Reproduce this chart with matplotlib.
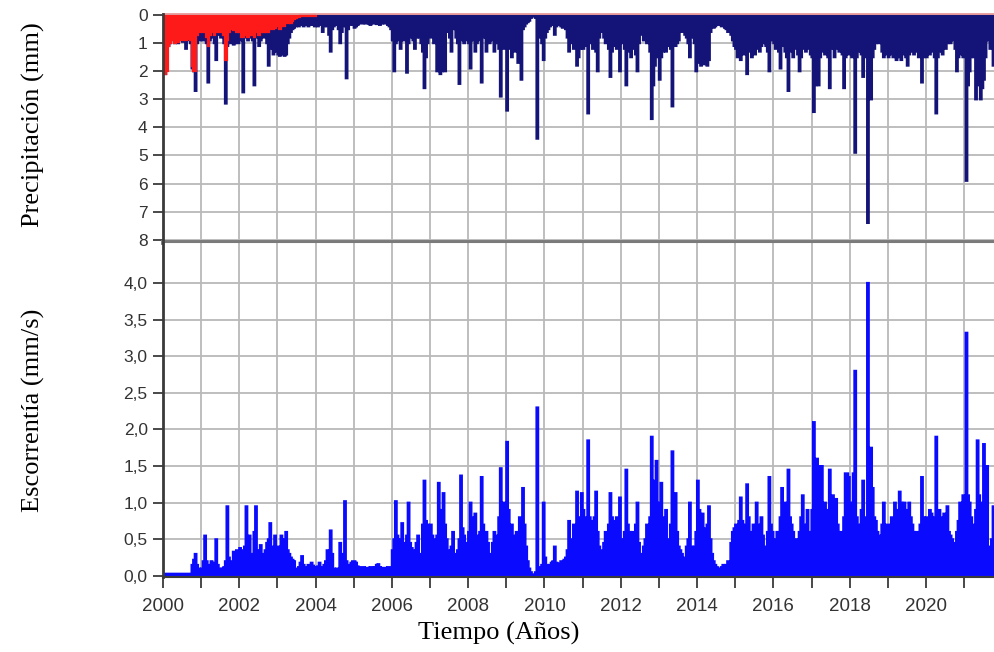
import numpy as np
import matplotlib
matplotlib.use("Agg")
import matplotlib.pyplot as plt

# Semi-monthly series (24 steps per year) starting 2000-01-01
START_YEAR = 2000
STEPS_PER_YEAR = 24

# Precipitación (mm) - main series, navy
precip = [
    # 2000
    2.0, 2.1, 1.9, 1.1, 1.0, 0.9, 0.8, 1.0, 0.9, 1.0, 0.85, 0.9,
    0.95, 0.85, 1.2, 0.8, 0.9, 1.0, 1.9, 2.0, 2.7, 1.0, 0.8, 0.9,
    # 2001
    0.8, 0.9, 0.7, 1.0, 2.4, 0.9, 0.7, 0.8, 1.0, 1.6, 0.6, 0.7,
    0.8, 0.7, 1.0, 3.15, 1.1, 0.8, 1.0, 1.0, 1.05, 1.0, 0.95, 1.0,
    # 2002
    0.9, 0.8, 2.75, 0.8, 0.7, 0.9, 0.8, 0.7, 0.9, 2.5, 0.8, 0.7,
    1.1, 0.9, 0.6, 0.8, 0.7, 1.0, 1.8, 1.2, 0.9, 1.4, 1.0, 1.3,
    # 2003
    1.4, 1.45, 1.4, 1.3, 1.45, 1.4, 1.0, 0.8, 0.6, 0.5, 0.45, 0.4,
    0.35, 0.4, 0.3, 0.35, 0.4, 0.35, 0.3, 0.4, 0.35, 0.3, 0.35, 0.4,
    # 2004
    0.35, 0.4, 0.3, 0.35, 0.6, 0.4, 0.3, 0.4, 0.7, 1.3, 0.5, 0.4,
    0.35, 0.3, 0.5, 1.0, 0.6, 0.4, 0.35, 2.25, 0.5, 0.35, 0.3, 0.35,
    # 2005
    0.45, 0.4, 0.35, 0.3, 0.3, 0.3, 0.28, 0.3, 0.25, 0.3, 0.35, 0.3,
    0.3, 0.28, 0.32, 0.3, 0.35, 0.3, 0.25, 0.3, 0.3, 0.35, 0.4, 0.5,
    # 2006
    0.9, 2.0, 1.0, 0.8, 0.9, 1.2, 0.8, 0.9, 0.7, 2.05, 1.0, 0.8,
    0.7, 0.9, 1.2, 0.8, 0.7, 0.8, 1.0, 1.3, 2.6, 1.5, 1.0, 0.8,
    # 2007
    0.8, 0.7, 1.0, 0.9, 2.0, 1.9, 2.1, 2.0, 1.8, 2.0, 0.4, 0.6,
    0.8, 1.3, 0.5, 0.4, 0.8, 1.0, 2.45, 0.9, 0.8, 1.0, 0.9, 0.8,
    # 2008
    1.0, 1.9, 0.8, 0.9, 1.3, 1.0, 0.8, 0.9, 2.4, 0.8, 0.7, 1.3,
    0.6, 1.0, 0.8, 0.9, 1.3, 0.8, 1.0, 1.2, 2.9, 1.0, 1.2, 1.0,
    # 2009
    3.4, 1.2, 1.0, 1.5, 1.1, 1.3, 1.0, 1.7, 1.2, 2.3, 0.5, 0.4,
    0.3, 0.25, 0.2, 0.1, 0.05, 0.05, 0.1, 4.4, 0.8, 0.6, 1.0, 1.6,
    # 2010
    0.8, 0.6, 0.5, 0.4, 0.35, 0.3, 0.7, 0.4, 0.35, 0.3, 0.4, 0.45,
    0.35, 0.5, 0.8, 1.3, 1.0, 0.9, 1.2, 1.0, 1.8, 1.5, 1.2, 1.0,
    # 2011
    1.2, 1.0, 1.1, 3.5, 1.0, 0.9, 1.2, 1.0, 1.3, 2.0, 0.8, 0.6,
    0.5, 0.8, 1.0, 0.7, 1.2, 2.2, 1.3, 1.1, 1.0, 1.2, 1.1, 2.0,
    # 2012
    0.8, 1.0, 1.2, 2.5, 1.3, 1.0, 1.5, 1.2, 1.0, 1.4, 2.0, 1.0,
    0.6, 0.7, 0.9, 0.8, 1.0, 0.9, 1.3, 3.7, 2.5, 1.8, 1.5, 1.4,
    # 2013
    2.3, 1.5, 1.3, 1.0, 1.3, 1.1, 0.9, 1.2, 3.25, 1.0, 1.1, 1.0,
    0.9, 0.5, 0.6, 0.5, 0.7, 0.8, 1.0, 1.5, 0.8, 0.4, 1.0, 2.0,
    # 2014
    1.7, 1.5, 1.8, 1.6, 1.75, 1.5, 1.8, 1.6, 0.6, 0.4, 0.45, 0.4,
    0.3, 0.35, 0.3, 0.4, 0.35, 0.45, 0.5, 0.6, 0.5, 0.7, 0.9, 1.1,
    # 2015
    1.2, 1.5, 1.1, 1.6, 1.3, 1.4, 1.2, 2.1, 1.0, 1.3, 1.5, 1.1,
    1.4, 1.0, 1.2, 1.3, 1.1, 1.0, 0.8, 1.1, 1.3, 2.0, 0.8, 0.9,
    # 2016
    1.0, 1.2, 0.9, 1.3, 1.9, 1.1, 1.0, 1.3, 1.5, 2.7, 1.3, 1.0,
    1.5, 1.2, 1.1, 1.4, 2.0, 1.5, 1.2, 1.0, 1.3, 1.1, 1.2, 1.4,
    # 2017
    1.5, 3.45, 2.5, 2.3, 2.5, 1.5, 1.3, 1.0, 1.4, 1.2, 1.5, 2.6,
    1.2, 1.0, 1.5, 1.2, 1.0, 1.3, 1.1, 1.4, 2.6, 1.5, 1.2, 1.4,
    # 2018
    1.3, 1.5, 1.2, 4.9, 1.5, 1.3, 1.2, 1.4, 2.2, 1.5, 1.3, 7.4,
    1.4, 3.0, 1.5, 1.2, 1.0, 0.8, 1.0, 0.9, 1.3, 1.5, 1.2, 1.4,
    # 2019
    1.5, 1.3, 1.4, 1.5, 1.2, 1.6, 1.3, 1.5, 1.6, 1.4, 1.3, 1.5,
    1.8, 1.4, 1.2, 1.3, 1.4, 1.3, 1.2, 1.5, 1.3, 2.4, 1.5, 1.4,
    # 2020
    1.5, 1.3, 1.4, 1.2, 1.3, 1.5, 3.5, 1.5, 1.3, 1.2, 1.4, 1.1,
    1.2, 1.0, 0.9, 1.0, 0.8, 0.9, 1.2, 2.0, 1.5, 1.4, 1.3, 1.5,
    # 2021 (to October)
    1.5, 5.9, 2.5, 2.0, 1.5, 1.3, 1.5, 3.0, 2.5, 1.5, 3.0, 2.6,
    2.3, 1.5, 0.8, 0.9, 1.2, 1.0, 1.8, 1.5,
]

# Precipitación - secondary component, red (2000-2003)
precip_red = [
    # 2000
    1.9, 2.1, 2.0, 1.1, 1.0, 0.9, 0.8, 1.0, 0.85, 0.95, 0.8, 0.9,
    0.9, 0.8, 0.9, 0.75, 0.85, 0.9, 1.8, 2.0, 2.0, 0.7, 0.6, 0.6,
    # 2001
    0.6, 0.6, 0.5, 0.8, 1.1, 0.7, 0.5, 0.6, 0.7, 0.6, 0.5, 0.6,
    0.5, 0.6, 0.7, 1.6, 0.9, 0.6, 0.5, 0.5, 0.55, 0.5, 0.6, 0.5,
    # 2002
    0.6, 0.8, 0.8, 0.7, 0.6, 0.8, 0.7, 0.6, 0.7, 0.8, 0.6, 0.5,
    0.7, 0.6, 0.5, 0.6, 0.5, 0.6, 0.6, 0.5, 0.4, 0.5, 0.45, 0.4,
    # 2003
    0.4, 0.5, 0.4, 0.35, 0.4, 0.3, 0.3, 0.25, 0.3, 0.2, 0.15, 0.1,
    0.08, 0.06, 0.05, 0.05, 0.05, 0.05, 0.04, 0.04, 0.04, 0.04, 0.04, 0.04,
]

# Escorrentía (mm/s)
runoff = [
    # 2000
    0.03, 0.03, 0.03, 0.03, 0.03, 0.03, 0.03, 0.03, 0.03, 0.03, 0.03, 0.03,
    0.03, 0.03, 0.03, 0.03, 0.03, 0.03, 0.15, 0.22, 0.3, 0.15, 0.1, 0.08,
    # 2001
    0.1, 0.2, 0.55, 0.2, 0.15, 0.12, 0.2, 0.15, 0.18, 0.5, 0.15, 0.1,
    0.08, 0.1, 0.12, 0.2, 0.95, 0.25, 0.15, 0.2, 0.33, 0.3, 0.35, 0.35,
    # 2002
    0.38, 0.35, 0.3, 0.4, 0.95, 0.3, 0.55, 0.3, 0.25, 0.6, 0.95, 0.35,
    0.2, 0.42, 0.3, 0.2, 0.35, 0.45, 0.5, 0.72, 0.4, 0.3, 0.55, 0.35,
    # 2003
    0.4, 0.3, 0.55, 0.45, 0.5, 0.6, 0.35, 0.3, 0.25, 0.22, 0.2, 0.1,
    0.1, 0.12, 0.18, 0.27, 0.15, 0.12, 0.1, 0.15, 0.12, 0.18, 0.14, 0.12,
    # 2004
    0.1, 0.13, 0.18, 0.1, 0.12, 0.15, 0.2, 0.35, 0.15, 0.62, 0.3, 0.1,
    0.08, 0.1, 0.08, 0.45, 0.12, 0.3, 1.02, 0.2, 0.15, 0.12, 0.18, 0.2,
    # 2005
    0.2, 0.18, 0.13, 0.12, 0.12, 0.12, 0.12, 0.11, 0.11, 0.11, 0.12, 0.12,
    0.11, 0.12, 0.15, 0.16, 0.12, 0.11, 0.11, 0.11, 0.11, 0.12, 0.12, 0.12,
    # 2006
    0.35, 0.5, 1.02, 0.55, 0.45, 0.5, 0.72, 0.45, 0.4, 0.55, 1.0, 0.45,
    0.38, 0.35, 0.3, 0.45, 0.55, 0.3, 0.25, 0.7, 1.3, 0.75, 0.7, 0.68,
    # 2007
    0.7, 0.55, 0.5, 0.35, 0.55, 1.27, 0.8, 0.9, 1.13, 0.7, 0.5, 0.35,
    0.3, 0.4, 0.6, 0.3, 0.2, 0.35, 0.5, 1.37, 0.65, 0.55, 0.4, 0.45,
    # 2008
    0.6, 1.0, 0.8, 0.6, 0.85, 0.55, 0.45, 0.6, 1.35, 0.7, 0.5, 0.6,
    0.45, 0.3, 0.25, 0.45, 0.6, 0.55, 0.5, 0.8, 1.47, 0.9, 1.0, 0.85,
    # 2009
    1.83, 0.9, 0.6, 0.7, 0.55, 0.5, 0.6, 0.45, 0.8, 0.6, 1.2, 0.7,
    0.4, 0.2, 0.1, 0.05, 0.02, 0.01, 0.05, 2.3, 0.12, 0.08, 0.15, 1.0,
    # 2010
    0.25, 0.15, 0.12, 0.15, 0.18, 0.2, 0.4, 0.18, 0.15, 0.17, 0.2, 0.2,
    0.22, 0.25, 0.35, 0.75, 0.4, 0.5, 0.7, 0.6, 1.15, 0.8, 0.6, 1.13,
    # 2011
    0.9, 0.8, 0.7, 1.85, 0.8, 0.75, 0.6, 0.8, 1.15, 0.6, 0.4, 0.35,
    0.3, 0.45, 0.6, 0.4, 0.7, 1.13, 0.8, 0.75, 0.6, 0.8, 0.7, 1.07,
    # 2012
    0.5, 0.45, 0.6, 1.45, 0.7, 0.6, 0.55, 0.6, 0.5, 0.7, 1.0, 0.45,
    0.3, 0.25, 0.4, 0.5, 0.7, 0.6, 0.8, 1.9, 1.2, 1.3, 1.57, 0.9,
    # 2013
    1.0, 1.27, 0.8, 0.6, 0.9, 0.5, 0.4, 0.7, 1.7, 0.9, 1.13, 0.6,
    0.4, 0.35, 0.3, 0.2, 0.25, 0.4, 0.5, 1.0, 0.4, 0.15, 0.4, 0.6,
    # 2014
    1.3, 0.9, 0.7, 0.85, 0.6, 0.65, 0.7, 0.95, 0.5, 0.3, 0.2, 0.15,
    0.12, 0.1, 0.1, 0.12, 0.15, 0.12, 0.15, 0.2, 0.15, 0.45, 0.6, 0.65,
    # 2015
    0.7, 0.65, 0.75, 1.07, 0.75, 0.6, 0.7, 1.25, 0.8, 0.6, 0.55, 0.7,
    0.6, 1.0, 0.7, 0.6, 0.8, 0.55, 0.4, 0.3, 0.6, 1.35, 0.7, 0.6,
    # 2016
    0.45, 0.5, 0.6, 0.55, 0.8, 1.2, 0.9, 1.0, 0.85, 1.45, 0.8, 0.7,
    0.6, 0.45, 0.5, 0.4, 0.6, 0.8, 1.1, 0.7, 0.65, 0.9, 0.6, 0.55,
    # 2017
    0.9, 2.1, 1.4, 1.6, 1.5, 1.2, 1.5, 0.9, 1.0, 0.7, 0.9, 1.45,
    1.0, 1.1, 0.95, 1.05, 0.7, 0.55, 0.6, 0.5, 0.8, 1.4, 1.4, 1.35,
    # 2018
    1.0, 0.8, 1.4, 2.8, 0.8, 0.7, 0.6, 0.9, 1.3, 0.8, 0.7, 4.0,
    0.9, 1.75, 1.2, 0.8, 0.75, 0.6, 0.55, 0.5, 0.7, 1.0, 0.6, 0.7,
    # 2019
    0.7, 0.6, 0.8, 0.75, 1.0, 0.85, 0.9, 1.15, 1.0, 0.95, 1.0, 0.85,
    0.9, 1.0, 0.8, 0.7, 0.6, 0.55, 0.6, 0.5, 0.7, 1.35, 0.8, 0.75,
    # 2020
    0.8, 0.7, 0.9, 0.85, 0.75, 0.8, 1.9, 0.7, 0.9, 0.8, 0.75, 0.85,
    0.7, 0.95, 0.6, 0.55, 0.5, 0.3, 0.45, 0.6, 0.75, 1.0, 0.8, 1.1,
    # 2021 (to October)
    1.0, 3.32, 1.1, 1.0, 0.8, 0.7, 0.6, 0.9, 1.85, 1.1, 1.0, 0.9,
    1.8, 1.45, 1.5, 0.4, 0.3, 0.5, 0.95, 0.8,
]

precip_ticks = [0, 1, 2, 3, 4, 5, 6, 7, 8]
runoff_ticks = [0.0, 0.5, 1.0, 1.5, 2.0, 2.5, 3.0, 3.5, 4.0]
year_ticks = list(range(2000, 2022))
year_labels = [str(y) if y % 2 == 0 else "" for y in year_ticks]

NAVY = "#141478"
RED = "#ff1a1a"
BLUE = "#0a0aff"
GRID = "#b9b9b9"
TICKCOL = "#333333"

edges = START_YEAR + np.arange(len(precip) + 1) / STEPS_PER_YEAR
edges_red = START_YEAR + np.arange(len(precip_red) + 1) / STEPS_PER_YEAR

fig = plt.figure(figsize=(9.95, 6.52), dpi=100)
ax_p = fig.add_axes([163 / 995, 1 - 242 / 652, 1 - 163 / 995, 228 / 652])
ax_q = fig.add_axes([163 / 995, 1 - 577 / 652, 1 - 163 / 995, 335 / 652])

XMIN, XMAX = 2000.0, 2021.81


def draw_series(ax, values, edge_pos, color, z):
    """Filled step series with an outline so narrow peaks stay visible."""
    ax.stairs(values, edge_pos, baseline=0, fill=True, color=color, lw=0, zorder=z)
    ax.stairs(values, edge_pos, baseline=0, fill=False, color=color, lw=1.6,
              zorder=z, joinstyle="miter")


# --- Precipitation panel (inverted) ---
draw_series(ax_p, precip, edges, NAVY, 2)
draw_series(ax_p, precip_red, edges_red, RED, 3)
ax_p.set_xlim(XMIN, XMAX)
ax_p.set_ylim(8.08, -0.036)
ax_p.set_yticks(precip_ticks)
ax_p.set_yticklabels([str(v) for v in precip_ticks])
ax_p.set_xticks(year_ticks)
ax_p.tick_params(axis="x", length=0, labelbottom=False)

# --- Runoff panel ---
draw_series(ax_q, runoff, edges, BLUE, 2)
ax_q.set_xlim(XMIN, XMAX)
ax_q.set_ylim(-0.014, 4.56)
ax_q.set_yticks(runoff_ticks)
ax_q.set_yticklabels([f"{v:.1f}".replace(".", ",") for v in runoff_ticks])
ax_q.set_xticks(year_ticks)
ax_q.set_xticklabels(year_labels)

for ax in (ax_p, ax_q):
    ax.set_axisbelow(True)
    ax.grid(True, color=GRID, lw=1.3)
    ax.spines["right"].set_visible(False)
    ax.spines["left"].set_color("#3a3a3a")
    ax.spines["left"].set_linewidth(2.0)
    ax.spines["left"].set_zorder(5)
    ax.tick_params(axis="y", direction="out", length=7, width=1.3,
                   color="#3a3a3a", pad=4, labelsize=12.5, labelcolor=TICKCOL)
    for lab in ax.get_yticklabels() + ax.get_xticklabels():
        lab.set_fontfamily("Liberation Sans")

ax_p.spines["top"].set_color("#e89090")
ax_p.spines["top"].set_linewidth(1.2)
ax_p.spines["bottom"].set_color("#7a7a7a")
ax_p.spines["bottom"].set_linewidth(3.5)
ax_q.spines["top"].set_color("#7a7a7a")
ax_q.spines["top"].set_linewidth(1.5)
ax_q.spines["bottom"].set_color("#3a3a3a")
ax_q.spines["bottom"].set_linewidth(1.5)
ax_q.spines["bottom"].set_zorder(5)
ax_q.tick_params(axis="x", direction="out", length=8, width=1.3,
                 color="#3a3a3a", pad=7, labelsize=13.5, labelcolor=TICKCOL)

serif = "Liberation Serif"
fig.text(33 / 995, 1 - 125 / 652, "Precipitación (mm)", rotation=90,
         ha="center", va="center", fontsize=19, family=serif)
fig.text(33 / 995, 1 - 410 / 652, "Escorrentía (mm/s)", rotation=90,
         ha="center", va="center", fontsize=19, family=serif)
fig.text(499 / 995, 1 - 633 / 652, "Tiempo (Años)",
         ha="center", va="center", fontsize=19, family=serif)

fig.savefig("out.png", dpi=100)
